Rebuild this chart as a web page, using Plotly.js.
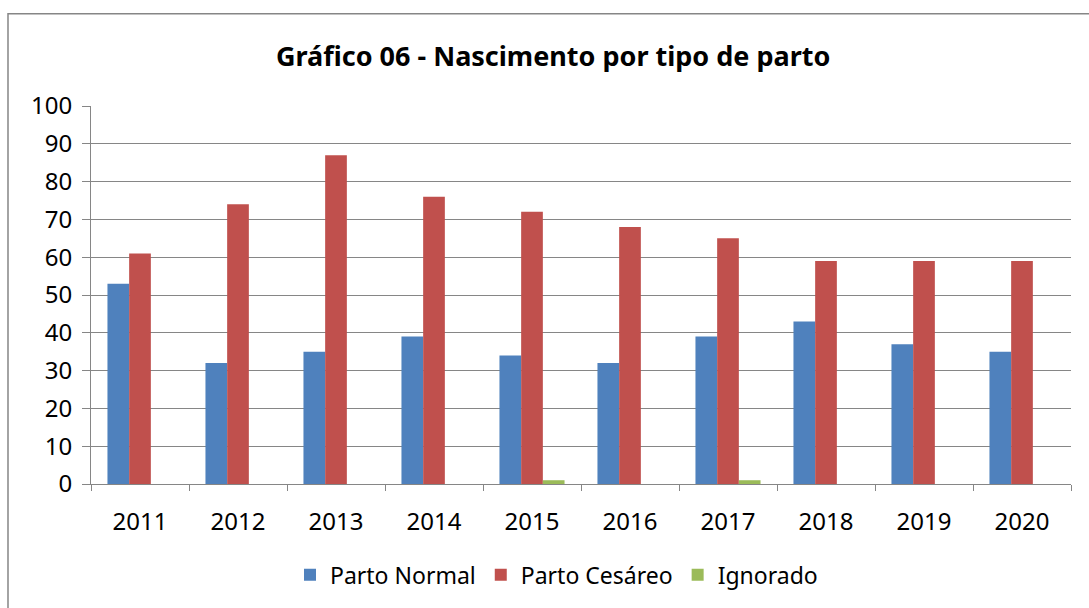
<!DOCTYPE html>
<html>
<head>
<meta charset="utf-8">
<script src="https://cdn.plot.ly/plotly-3.0.1.min.js"></script>
<style>html,body{margin:0;padding:0;background:#fff;}#chart{width:1089px;height:608px;}</style>
</head>
<body>
<div id="chart"></div>
<script>
const years = ["2011","2012","2013","2014","2015","2016","2017","2018","2019","2020"];
const partoNormal = [53,32,35,39,34,32,39,43,37,35];
const partoCesareo = [61,74,87,76,72,68,65,59,59,59];
const ignorado = [0,0,0,0,1,0,1,0,0,0];
const seriesNames = ["Parto Normal","Parto Cesáreo","Ignorado"];
const colors = ["#4F81BD","#C0504D","#9BBB59"];
const FONT = "Noto Sans, Open Sans, sans-serif";

const data = [partoNormal, partoCesareo, ignorado].map((v,i)=>({
  type:'bar', x:years, y:v, name:seriesNames[i],
  marker:{color:colors[i], line:{width:0}}
}));

const layout = {
  width:1089, height:608,
  paper_bgcolor:'#fff', plot_bgcolor:'#fff',
  margin:{l:91, r:18, t:106, b:121},
  barmode:'group', bargap:0.336, bargroupgap:0,
  title:{text:'<b>Gráfico 06 - Nascimento por tipo de parto</b>', x:0.508, xanchor:'center', y:0.907, yanchor:'middle',
    font:{family:FONT, size:27, color:'#000'}},
  font:{family:FONT, size:23, color:'#000'},
  xaxis:{type:'category', showline:true, linecolor:'#868686', linewidth:1,
    ticks:'outside', tickson:'boundaries', ticklen:6, tickcolor:'#868686',
    showgrid:false, tickfont:{size:24}, ticklabelstandoff:16},
  yaxis:{range:[0,100], dtick:10, showline:true, linecolor:'#868686', linewidth:1,
    ticks:'outside', ticklen:8, tickcolor:'#868686', gridcolor:'#868686', gridwidth:1,
    tickfont:{size:24}, ticklabelstandoff:5, zeroline:false, fixedrange:true},
  legend:{orientation:'h', x:0.475, xanchor:'center', y:-0.24, yanchor:'middle',
    font:{size:23}, itemwidth:30, traceorder:'normal'},
  shapes:[{type:'rect', xref:'paper', yref:'paper', x0:-0.0847, x1:1.1, y0:-0.4, y1:1.244,
    line:{color:'#868686', width:1.5}, fillcolor:'rgba(0,0,0,0)', layer:'below'}],
  showlegend:true
};
Plotly.newPlot('chart', data, layout, {displayModeBar:false, staticPlot:true});
</script>
</body>
</html>
